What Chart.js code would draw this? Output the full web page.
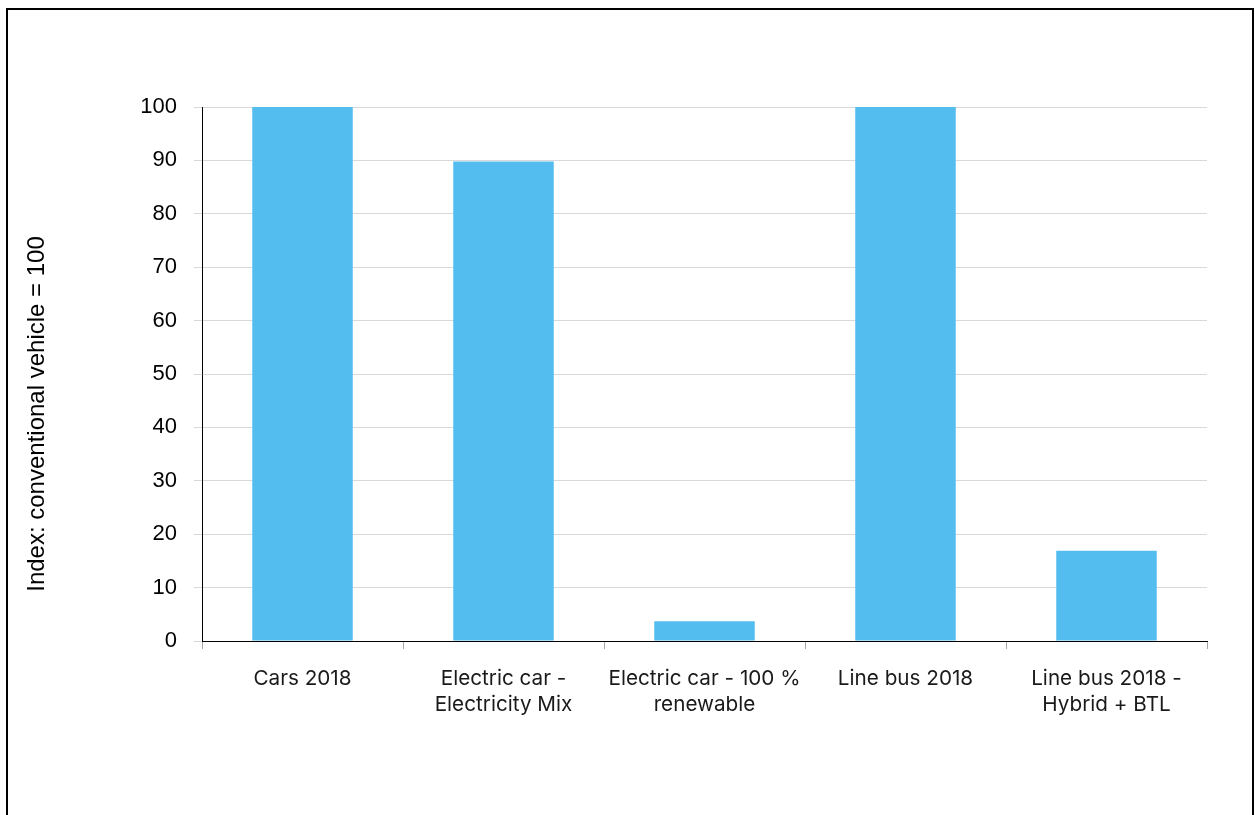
<!DOCTYPE html>
<html lang="en">
<head>
    <meta charset="UTF-8">
    <title>Index: conventional vehicle = 100</title>
    <script src="https://cdn.jsdelivr.net/npm/chart.js"></script>
    <style>
        html, body { margin: 0; padding: 0; background: #fff; overflow: hidden; }
        .frame {
            position: absolute; left: 6px; top: 8px;
            width: 1248px; height: 900px;
            border: 2px solid #000; box-sizing: border-box;
            pointer-events: none;
        }
        .wrap { position: absolute; left: 0; top: 0; width: 1255px; height: 815px; }
    </style>
</head>
<body>
    <div class="wrap"><canvas id="chart" width="1255" height="815"></canvas></div>
    <div class="frame"></div>

    <script>
        // chart data
        const categories = [
            'Cars 2018',
            ['Electric car -', 'Electricity Mix'],
            ['Electric car - 100 %', 'renewable'],
            'Line bus 2018',
            ['Line bus 2018 -', 'Hybrid + BTL']
        ];
        const indexValues = [100, 89.8, 3.7, 100, 16.9];
        const yTicks = { min: 0, max: 100, step: 10 };
        const yTitle = 'Index: conventional vehicle = 100';

        // the axis title sits a bit below the middle of the axis, so draw it by hand
        const sideTitle = {
            id: 'sideTitle',
            afterDraw(chart) {
                const c = chart.ctx;
                c.save();
                c.translate(37, 414);
                c.rotate(-Math.PI / 2);
                c.font = '24px "Liberation Sans"';
                c.fillStyle = '#000';
                c.textAlign = 'center';
                c.textBaseline = 'middle';
                c.fillText(yTitle, 0, 0);
                c.restore();
            }
        };

        const ctx = document.getElementById('chart').getContext('2d');
        new Chart(ctx, {
            type: 'bar',
            data: {
                labels: categories,
                datasets: [{
                    data: indexValues,
                    backgroundColor: '#53BDF0',
                    borderWidth: 0,
                    barPercentage: 0.5,
                    categoryPercentage: 1.0
                }]
            },
            plugins: [sideTitle],
            options: {
                responsive: false,
                animation: false,
                layout: { padding: { left: 0, top: 107, right: 48, bottom: 0 } },
                plugins: {
                    legend: { display: false },
                    tooltip: { enabled: false }
                },
                scales: {
                    x: {
                        offset: true,
                        grid: {
                            offset: true,
                            drawOnChartArea: false,
                            drawTicks: true,
                            tickLength: 8,
                            color: '#a6a6a6'
                        },
                        border: { display: true, color: '#000', width: 1 },
                        ticks: {
                            color: '#1a1a1a',
                            padding: 17,
                            maxRotation: 0,
                            autoSkip: false,
                            font: { family: 'Inter', size: 20.7, lineHeight: 1.26 }
                        },
                        afterFit: (scale) => { scale.height = 174; }
                    },
                    y: {
                        min: yTicks.min,
                        max: yTicks.max,
                        grid: {
                            color: '#d9d9d9',
                            tickLength: 8,
                            drawTicks: true
                        },
                        border: { display: true, color: '#000', width: 1 },
                        ticks: {
                            stepSize: yTicks.step,
                            color: '#000',
                            padding: 17,
                            font: { family: 'Liberation Sans', size: 22 }
                        },
                        afterFit: (scale) => { scale.width = 202; }
                    }
                }
            }
        });
    </script>
</body>
</html>
